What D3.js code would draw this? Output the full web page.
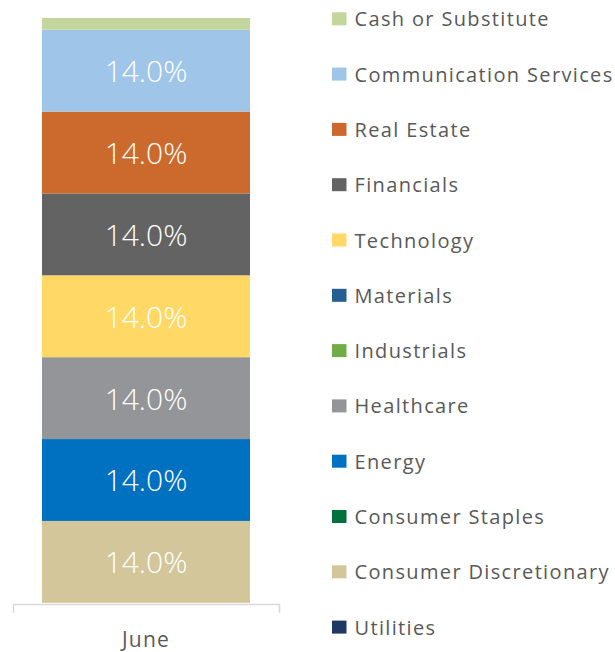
<!DOCTYPE html>
<html>
<head>
<meta charset="utf-8">
<script src="https://cdn.jsdelivr.net/npm/d3@7"></script>
<style>
  html, body { margin: 0; padding: 0; background: #ffffff; }
  svg { display: block; }
</style>
</head>
<body>
<svg id="chart" width="615" height="652"></svg>
<script>
// Sector weights for the month, stacked bottom to top
const categories = ["June"];
const sectors = [
  "Utilities",
  "Consumer Discretionary",
  "Consumer Staples",
  "Energy",
  "Healthcare",
  "Industrials",
  "Materials",
  "Technology",
  "Financials",
  "Real Estate",
  "Communication Services",
  "Cash or Substitute"
];
const weights = [0, 14, 0, 14, 14, 0, 0, 14, 14, 14, 14, 2];
const sectorColors = [
  "#1F3864",
  "#D3C69B",
  "#00703C",
  "#0070C0",
  "#939598",
  "#70AD47",
  "#255E91",
  "#FFD866",
  "#636363",
  "#CC6A2D",
  "#9FC5E8",
  "#C3D69B"
];
const yTicks = [0, 100];

const svg = d3.select("#chart");
const font = "'Open Sans', 'Segoe UI', sans-serif";

const x = d3.scaleBand()
  .domain(categories)
  .range([13, 279])
  .paddingInner(0.218)
  .paddingOuter(0.109);

const y = d3.scaleLinear()
  .domain(d3.extent(yTicks))
  .range([602.8, 18]);

// Build the stack from the named arrays
const row = { month: categories[0] };
sectors.forEach((s, i) => { row[s] = weights[i]; });
const stacked = d3.stack().keys(sectors)([row]);
const color = d3.scaleOrdinal().domain(sectors).range(sectorColors);

const layers = svg.append("g").selectAll("g")
  .data(stacked)
  .join("g")
  .attr("fill", d => color(d.key));

layers.selectAll("rect")
  .data(d => d.map(v => ({ key: d.key, v })))
  .join("rect")
  .attr("x", d => x(d.v.data.month))
  .attr("width", x.bandwidth())
  .attr("y", d => y(d.v[1]))
  .attr("height", d => y(d.v[0]) - y(d.v[1]));

// Value labels inside the segments
layers.selectAll("text")
  .data(d => d.map(v => ({ key: d.key, v })).filter(e => e.v[1] - e.v[0] >= 5))
  .join("text")
  .attr("x", d => x(d.v.data.month) + x.bandwidth() / 2)
  .attr("y", d => (y(d.v[0]) + y(d.v[1])) / 2)
  .attr("text-anchor", "middle")
  .attr("dominant-baseline", "central")
  .attr("fill", "#ffffff")
  .style("font-family", font)
  .style("font-size", "30px")
  .style("font-weight", 300)
  .text(d => (d.v[1] - d.v[0]).toFixed(1) + "%");

// Category axis with end ticks
const axis = svg.append("g")
  .attr("transform", "translate(0,604)")
  .call(d3.axisBottom(x).tickSizeInner(0).tickSizeOuter(9).tickPadding(28));
axis.select(".domain").attr("stroke", "#D9D9D9").attr("stroke-width", 1.5);
axis.selectAll("text")
  .attr("fill", "#595959")
  .style("font-family", font)
  .style("font-size", "21px")
  .style("letter-spacing", "1.2px");

// Legend, top entry is the top of the stack
const legendOrder = sectors.slice().reverse();
const legend = svg.append("g").selectAll("g")
  .data(legendOrder)
  .join("g")
  .attr("transform", (d, i) => `translate(332,${18.8 + i * 55.3})`);

legend.append("rect")
  .attr("x", 0)
  .attr("y", -6.5)
  .attr("width", 14.5)
  .attr("height", 13)
  .attr("fill", d => color(d));

legend.append("text")
  .attr("x", 22.5)
  .attr("y", 0)
  .attr("dominant-baseline", "central")
  .attr("fill", "#595959")
  .style("font-family", font)
  .style("font-size", "20px")
  .style("letter-spacing", "1.35px")
  .text(d => d);
</script>
</body>
</html>
